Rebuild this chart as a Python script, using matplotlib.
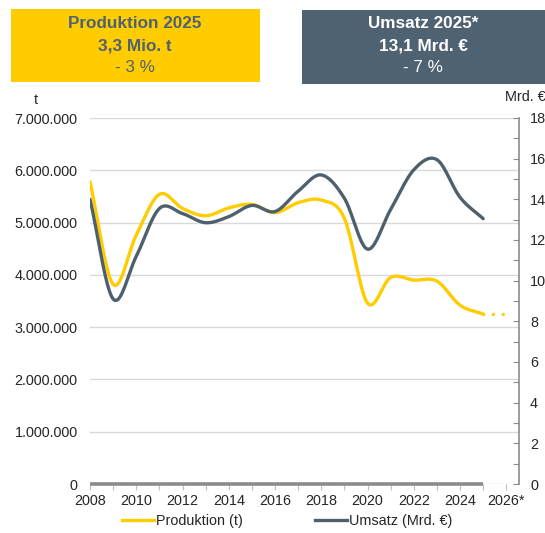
import matplotlib
matplotlib.use("Agg")
import matplotlib.pyplot as plt
from matplotlib.patches import Rectangle
from matplotlib.lines import Line2D
import numpy as np

plt.rcParams['font.family'] = ['Liberation Sans', 'DejaVu Sans']

# data
years = [2008, 2009, 2010, 2011, 2012, 2013, 2014, 2015, 2016,
         2017, 2018, 2019, 2020, 2021, 2022, 2023, 2024, 2025]
produktion = [5780000, 3820000, 4760000, 5540000, 5270000, 5130000, 5280000,
              5350000, 5190000, 5380000, 5430000, 5080000, 3460000, 3950000,
              3900000, 3880000, 3420000, 3250000]
umsatz = [14.0, 9.1, 11.2, 13.55, 13.3, 12.85, 13.15, 13.7, 13.4,
          14.4, 15.2, 14.05, 11.55, 13.5, 15.45, 15.95, 14.1, 13.05]
prognose_years = [2025, 2026]
prognose_produktion = [3250000, 3250000]

xtick_years = [2008, 2010, 2012, 2014, 2016, 2018, 2020, 2022, 2024, 2026]
xtick_labels = ['2008', '2010', '2012', '2014', '2016', '2018', '2020',
                '2022', '2024', '2026*']

YELLOW = '#FFCC00'
SLATE = '#4E606E'
GRID = '#D9D9D9'
TXT = '#262626'
FS = 10.4
W, H = 545, 533


def smooth(x, y, n=20):
    # catmull-rom curve through the points, like excel's smoothed lines
    x = np.asarray(x, float)
    y = np.asarray(y, float)
    px = np.concatenate([[2 * x[0] - x[1]], x, [2 * x[-1] - x[-2]]])
    py = np.concatenate([[2 * y[0] - y[1]], y, [2 * y[-1] - y[-2]]])
    xs, ys = [], []
    t = np.linspace(0, 1, n, endpoint=False)
    for i in range(1, len(px) - 2):
        for p, out in ((px, xs), (py, ys)):
            p0, p1, p2, p3 = p[i - 1], p[i], p[i + 1], p[i + 2]
            out.extend(0.5 * (2 * p1 + (-p0 + p2) * t
                              + (2 * p0 - 5 * p1 + 4 * p2 - p3) * t ** 2
                              + (-p0 + 3 * p1 - 3 * p2 + p3) * t ** 3))
    xs.append(x[-1])
    ys.append(y[-1])
    return np.array(xs), np.array(ys)


fig = plt.figure(figsize=(W / 100, H / 100), dpi=100)
ax = fig.add_axes([90 / W, 1 - 484 / H, (519 - 90) / W, (484 - 118) / H])
ax2 = ax.twinx()

ax.set_xlim(2008, 2026.55)
ax.set_ylim(0, 7000000)
ax2.set_ylim(0, 18)

ax.set_yticks(np.arange(0, 7000001, 1000000))
ax.set_yticklabels([f'{v:,}'.replace(',', '.') for v in range(0, 7000001, 1000000)])
ax.yaxis.grid(True, color=GRID, lw=1)
ax.set_axisbelow(True)
ax.tick_params(axis='y', length=0, labelsize=FS, labelcolor=TXT, pad=9)

ax.set_xticks(range(2008, 2027))
ax.set_xticklabels([xtick_labels[xtick_years.index(y)] if y in xtick_years else ''
                    for y in range(2008, 2027)])
ax.tick_params(axis='x', length=4, color='#BFBFBF', labelsize=FS,
               labelcolor=TXT, pad=3)

ax2.set_yticks(range(0, 19))
ax2.set_yticklabels([str(v) if v % 2 == 0 else '' for v in range(0, 19)])
ax2.tick_params(axis='y', direction='in', length=4, color='#8C8C8C',
                labelsize=FS, labelcolor=TXT, pad=8)

for a in (ax, ax2):
    for s in ('top', 'left', 'bottom', 'right'):
        a.spines[s].set_visible(False)
ax2.spines['right'].set_visible(True)
ax2.spines['right'].set_color('#8C8C8C')
ax2.spines['right'].set_linewidth(1.2)

# grey base line at zero
ax.plot([years[0], years[-1]], [0, 0], color='#8C8C8C', lw=2.6,
        solid_capstyle='butt', clip_on=False, zorder=3)

sx, sy = smooth(years, produktion)
ax.plot(sx, sy, color=YELLOW, lw=2.4, solid_capstyle='round', zorder=4)
ax.plot(prognose_years, prognose_produktion, color=YELLOW, lw=2.4,
        linestyle=(0, (0.05, 2.9)), dash_capstyle='round', zorder=4)

ux, uy = smooth(years, umsatz)
ax2.plot(ux, uy, color=SLATE, lw=2.4, solid_capstyle='round', zorder=4)

fig.text(36 / W, 1 - 100 / H, 't', ha='center', va='center', fontsize=FS,
         color=TXT)
fig.text(546 / W, 1 - 97 / H, 'Mrd. €', ha='right', va='center', fontsize=FS,
         color=TXT)

# header boxes
fig.add_artist(Rectangle((11 / W, 1 - 82 / H), 249 / W, 73 / H,
                         transform=fig.transFigure, color=YELLOW, lw=0))
fig.add_artist(Rectangle((302 / W, 1 - 84 / H), 250 / W, 74 / H,
                         transform=fig.transFigure, color='#4F6272', lw=0))
box_lines = [
    (135, 'Produktion 2025', '3,3 Mio. t', '- 3 %', '#4F6272'),
    (423, 'Umsatz 2025*', '13,1 Mrd. €', '- 7 %', 'white'),
]
for cx, l1, l2, l3, col in box_lines:
    fig.text(cx / W, 1 - 24 / H, l1, ha='center', va='center', fontsize=12.3,
             fontweight='bold', color=col)
    fig.text(cx / W, 1 - 46 / H, l2, ha='center', va='center', fontsize=12.3,
             fontweight='bold', color=col)
    fig.text(cx / W, 1 - 68 / H, l3, ha='center', va='center', fontsize=12.3,
             color=col)

handles = [Line2D([], [], color=YELLOW, lw=2.4),
           Line2D([], [], color=SLATE, lw=2.4)]
fig.legend(handles, ['Produktion (t)', 'Umsatz (Mrd. €)'], loc='center',
           bbox_to_anchor=(287 / W, 1 - 521 / H), ncol=2, frameon=False,
           fontsize=FS, handlelength=2.2, handletextpad=0.15,
           columnspacing=5.0, labelcolor=TXT)

fig.savefig('out.png', dpi=100)
